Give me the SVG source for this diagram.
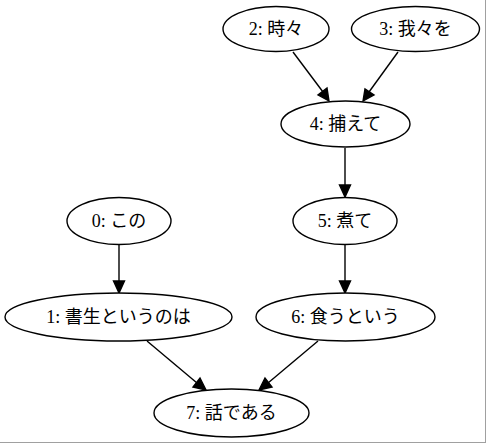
<svg xmlns="http://www.w3.org/2000/svg" width="486" height="443" viewBox="0 0 486 443">
<style>
.n ellipse{fill:#fff;stroke:#000;stroke-width:1.4}
.n text{font-family:"Liberation Serif","Noto Sans CJK JP",serif;font-size:18px;text-anchor:middle;fill:#000}
.e line{stroke:#000;stroke-width:1.4}
.e polygon{fill:#000;stroke:#000;stroke-width:1.4}
</style>
<rect x="0" y="0" width="486" height="443" fill="#fff"/>
<line x1="485.5" y1="0" x2="485.5" y2="443" stroke="#a0a0a0" stroke-width="1"/>
<line x1="0" y1="442.5" x2="486" y2="442.5" stroke="#a0a0a0" stroke-width="1"/>
<g class="e" id="edges">
<line x1="293" y1="52" x2="323" y2="92"/><polygon points="329,101 318,95 327,88"/>
<line x1="398" y1="52" x2="369" y2="92"/><polygon points="363,101 365,89 374,95"/>
<line x1="345" y1="148" x2="345" y2="186"/><polygon points="345,197 339.5,185 350.5,185"/>
<line x1="119" y1="245" x2="119" y2="282"/><polygon points="119,293 113.5,281 124.5,281"/>
<line x1="345" y1="245" x2="345" y2="282"/><polygon points="345,293 339.5,281 350.5,281"/>
<line x1="147" y1="341" x2="197" y2="383"/><polygon points="206,390 193,387 200,378"/>
<line x1="318" y1="341" x2="268" y2="383"/><polygon points="259,390 265,378 272,387"/>
</g>
<g class="n" id="node2"><ellipse cx="276" cy="29" rx="53" ry="22.5"/><text x="276" y="35">2: 時々</text></g>
<g class="n" id="node3"><ellipse cx="415.5" cy="29" rx="64" ry="22.5"/><text x="415.5" y="35">3: 我々を</text></g>
<g class="n" id="node4"><ellipse cx="345.5" cy="124" rx="64.5" ry="23"/><text x="345.5" y="130">4: 捕えて</text></g>
<g class="n" id="node0"><ellipse cx="119" cy="221" rx="52" ry="23.5"/><text x="119" y="227">0: この</text></g>
<g class="n" id="node5"><ellipse cx="345" cy="221" rx="52" ry="23.5"/><text x="345" y="227">5: 煮て</text></g>
<g class="n" id="node1"><ellipse cx="118.5" cy="317" rx="113.5" ry="24"/><text x="118.5" y="323">1: 書生というのは</text></g>
<g class="n" id="node6"><ellipse cx="345.5" cy="317" rx="89.5" ry="24"/><text x="345.5" y="323">6: 食うという</text></g>
<g class="n" id="node7"><ellipse cx="231.5" cy="413" rx="77.5" ry="24"/><text x="231.5" y="419">7: 話である</text></g>
</svg>
